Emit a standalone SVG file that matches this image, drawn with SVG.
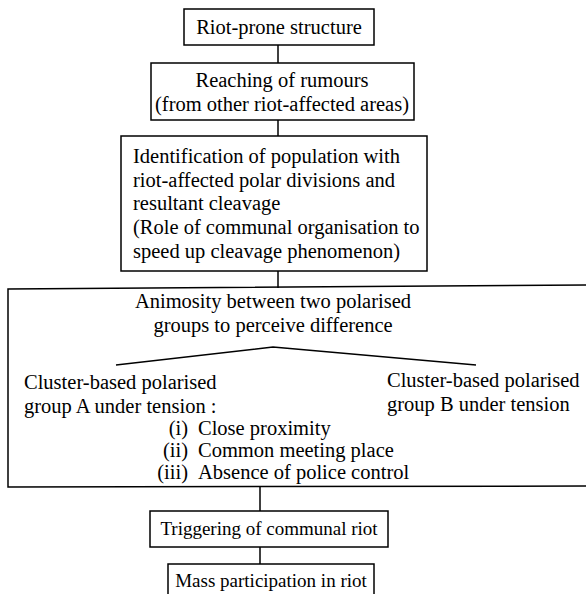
<svg xmlns="http://www.w3.org/2000/svg" width="586" height="594" viewBox="0 0 586 594">
<style>
.box{fill:#fff;stroke:#000;stroke-width:1.5}
.ln{fill:none;stroke:#000;stroke-width:1.5}
text{font-family:'Liberation Serif','Times New Roman',Times,serif;font-size:20.5px;fill:#000}
.s{font-size:19px}
.c{text-anchor:middle}
.e{text-anchor:end}
</style>
<rect width="586" height="594" fill="#fff"/>
<g id="connectors">
<line class="ln" x1="278" y1="45" x2="278" y2="63"/>
<line class="ln" x1="278" y1="120" x2="278" y2="136"/>
<line class="ln" x1="278" y1="271" x2="278" y2="288"/>
<line class="ln" x1="260" y1="487" x2="260" y2="511"/>
<line class="ln" x1="260" y1="547" x2="260" y2="564"/>
</g>
<g id="n1">
<rect class="box" x="184" y="9" width="190" height="36"/>
<text class="c" x="279" y="34">Riot-prone structure</text>
</g>
<g id="n2">
<rect class="box" x="151" y="63" width="263" height="57"/>
<text class="c" x="282" y="87">Reaching of rumours</text>
<text class="c" x="282" y="111">(from other riot-affected areas)</text>
</g>
<g id="n3">
<rect class="box" x="121" y="136" width="306" height="135"/>
<text x="133" y="163">Identification of population with</text>
<text x="133" y="187">riot-affected polar divisions and</text>
<text x="133" y="210">resultant cleavage</text>
<text x="133" y="234">(Role of communal organisation to</text>
<text x="133" y="258">speed up cleavage phenomenon)</text>
</g>
<g id="n4">
<path class="ln" d="M590 285 L8 289 L8 487 L590 486"/>
<text class="c" x="273" y="308">Animosity between two polarised</text>
<text class="c" x="273" y="332">groups to perceive difference</text>
<path class="ln" d="M116 365 L273 347 L476 365"/>
<text x="24" y="389">Cluster-based polarised</text>
<text x="24" y="413">group A under tension :</text>
<text x="387" y="387">Cluster-based polarised</text>
<text x="387" y="411">group B under tension</text>
<text class="e" x="188" y="435">(i)</text>
<text x="198" y="435">Close proximity</text>
<text class="e" x="188" y="457">(ii)</text>
<text x="198" y="457">Common meeting place</text>
<text class="e" x="188" y="479">(iii)</text>
<text x="198" y="479">Absence of police control</text>
</g>
<g id="n5">
<rect class="box" x="150" y="511" width="238" height="36"/>
<text class="c s" x="269" y="535">Triggering of communal riot</text>
</g>
<g id="n6">
<rect class="box" x="168" y="564" width="206" height="34"/>
<text class="c s" x="271" y="587">Mass participation in riot</text>
</g>
</svg>
